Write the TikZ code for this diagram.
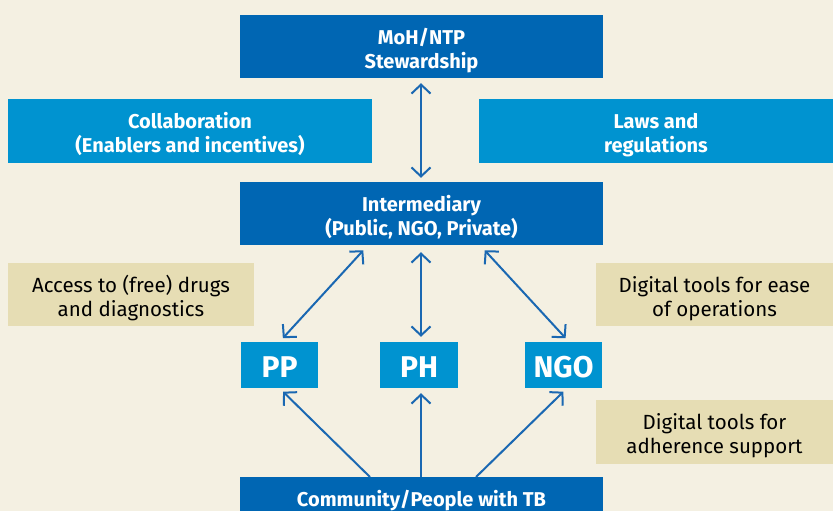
\documentclass[tikz,border=0pt]{standalone}
\usepackage{fontspec}
\setmainfont{Fira Sans}
\usepackage{xcolor}
\usetikzlibrary{arrows.meta,positioning}
\definecolor{paper}{HTML}{F4F0E2}
\definecolor{deep}{HTML}{0066B3}
\definecolor{sky}{HTML}{0093D0}
\definecolor{sand}{HTML}{E6DDB4}
\definecolor{wire}{HTML}{1A68B2}
% two centred lines, set a little low in their box
\newcommand{\twolines}[2]{\raisebox{-5pt}[\height][\depth]{\begin{tabular}{@{}c@{}}#1\\#2\end{tabular}}}
\newcommand{\lowtag}[1]{\raisebox{-2pt}[\height][\depth]{#1}}
\tikzset{
  deepbox/.style={fill=deep,text=white,font=\fontsize{20}{24}\selectfont\bfseries,inner sep=0pt,minimum width=363pt,minimum height=63pt},
  skybox/.style={fill=sky,text=white,font=\fontsize{20}{24}\selectfont\bfseries,inner sep=0pt,minimum height=64pt},
  sandbox/.style={fill=sand,text=black,font=\fontsize{20.5}{24}\selectfont,inner sep=0pt,minimum width=237pt,minimum height=63pt},
  actor/.style={fill=sky,text=white,font=\fontsize{30}{32}\selectfont\bfseries,inner sep=0pt,minimum width=77pt,minimum height=46pt},
  link/.style={draw=wire,line width=2pt,{Straight Barb[length=9pt,width=19pt]}-{Straight Barb[length=9pt,width=19pt]}},
  uplink/.style={draw=wire,line width=2pt,-{Straight Barb[length=9pt,width=19pt]}}
}
\begin{document}
\begin{tikzpicture}[x=1pt,y=-1pt]
\useasboundingbox (0,0) rectangle (833,511);
\clip (0,0) rectangle (833,511);
\fill[paper] (0,0) rectangle (833,511);
% governance layer
\node[deepbox] (moh) at (421.5,46.5) {\twolines{MoH/NTP}{Stewardship}};
\node[skybox,minimum width=364pt] (collab) at (190,131) {\twolines{Collaboration}{(Enablers and incentives)}};
\node[skybox,minimum width=354pt] (laws) at (656,131) {\twolines{Laws and}{regulations}};
\node[deepbox] (inter) at (421.5,213.5) {\twolines{Intermediary}{(Public, NGO, Private)}};
% side notes
\node[sandbox,minimum width=246pt] (access) at (131,294.5) {\twolines{Access to (free) drugs}{and diagnostics}};
\node[sandbox] (ease) at (714.5,294.5) {\twolines{Digital tools for ease}{of operations}};
\node[sandbox,minimum height=64pt] (adher) at (714.5,432) {\twolines{Digital tools for}{adherence support}};
% providers
\node[actor] (pp) at (279.5,365) {\lowtag{PP}};
\node[actor,minimum width=78pt] (ph) at (419,365) {\lowtag{PH}};
\node[actor] (ngo) at (563.5,365) {\lowtag{NGO}};
\node[deepbox,minimum height=60pt,anchor=north] (comm) at (421.5,477) {\raisebox{18pt}{Community/People with TB}};
% connectors
\draw[link,shorten <=5pt,shorten >=4pt] ([xshift=-0.5pt]moh.south) -- ([xshift=-0.5pt]inter.north);
\draw[link,shorten <=7pt,shorten >=5pt] ([xshift=-53.5pt]inter.south) -- (pp.north);
\draw[link,shorten <=7pt,shorten >=5pt] ([xshift=-0.5pt]inter.south) -- ([xshift=2pt]ph.north);
\draw[link,shorten <=7pt,shorten >=5pt] ([xshift=58.5pt]inter.south) -- ([xshift=5.5pt]ngo.north);
\draw[uplink,shorten >=5pt] ([xshift=-51.5pt]comm.north) -- (pp.south);
\draw[uplink,shorten >=5pt] ([xshift=-0.5pt]comm.north) -- ([xshift=2pt]ph.south);
\draw[uplink,shorten >=5pt] ([xshift=54.5pt]comm.north) -- ([xshift=3.5pt]ngo.south);
\end{tikzpicture}
\end{document}
